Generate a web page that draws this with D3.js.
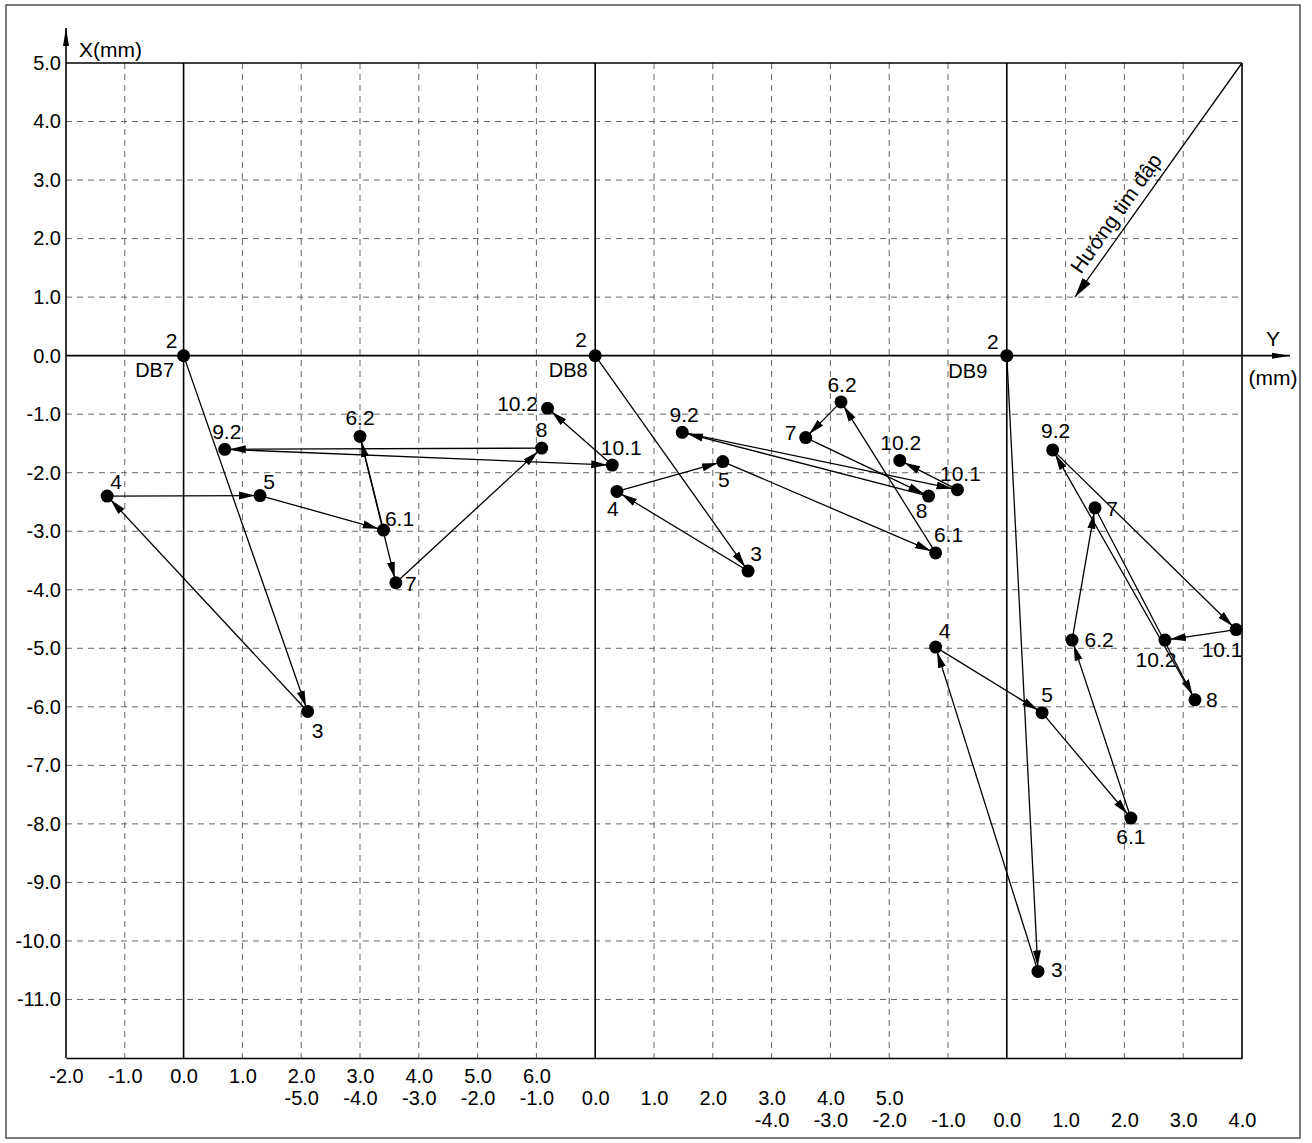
<!DOCTYPE html>
<html>
<head>
<meta charset="utf-8">
<script src="https://cdn.jsdelivr.net/npm/d3@7"></script>
<style>
  html, body { margin: 0; padding: 0; background: #fff; }
  svg { display: block; font-family: 'Liberation Sans', Arial, sans-serif; }
</style>
</head>
<body>
<div id="chart"></div>
<script>
// ─── Data ──────────────────────────────────────────────────────────────
const pointIds = ['2', '3', '4', '5', '6.1', '6.2', '7', '8', '9.2', '10.1', '10.2'];
const stations = ['DB7', 'DB8', 'DB9'];

// horizontal displacement Y (mm) and vertical displacement X (mm), per survey
const db7Y = [0, 2.11, -1.30, 1.30, 3.40, 3.00, 3.61, 6.09, 0.70, 7.29, 6.19];
const db7X = [0, -6.08, -2.40, -2.39, -2.98, -1.38, -3.88, -1.58, -1.60, -1.87, -0.90];

const db8Y = [0, 2.60, 0.37, 2.17, 5.79, 4.18, 3.58, 5.67, 1.48, 6.16, 5.18];
const db8X = [0, -3.68, -2.32, -1.81, -3.37, -0.79, -1.40, -2.40, -1.31, -2.29, -1.79];

const db9Y = [0, 0.53, -1.21, 0.60, 2.11, 1.11, 1.50, 3.20, 0.78, 3.90, 2.69];
const db9X = [0, -10.52, -4.98, -6.10, -7.90, -4.86, -2.60, -5.88, -1.61, -4.68, -4.86];

// tick labels
const xTicks = d3.range(-11, 6);            // vertical axis, X(mm)
const db7Ticks = d3.range(-2, 7);           // first row under the plot
const db8Ticks = d3.range(-5, 6);           // second row
const db9Ticks = d3.range(-4, 5);           // third row

// each station shares the same strip; its own zero sits further right
const stationDomains = [[-2, 18], [-9, 11], [-16, 4]];

// dam axis direction arrow (in DB9 units)
const dirFrom = [4.0, 5.0];
const dirTo = [1.16, 1.0];
const dirLabel = 'Hướng tim đập';

// ─── Label placement (px offsets from the dot) ─────────────────────────
const labelOffsets = [
  [[-12, -15], [10, 19], [9, -15], [9, -14], [16, -12], [0, -19], [15, 1], [0, -19], [2, -18], [9, -18], [-30, -5]],
  [[-14, -16], [8, -18], [-4, 17], [1, 18], [13, -18], [1, -17], [-15, -5], [-7, 14], [2, -18], [3, -16], [1, -18]],
  [[-14, -14], [19, -2], [9, -17], [5, -18], [0, 18], [27, -1], [17, 1], [17, 0], [3, -19], [-14, 20], [-9, 19]]
];
const stationLabelOffsets = [[-29, 14], [-27, 14], [-39, 15]];

// ─── Layout ────────────────────────────────────────────────────────────
const W = 1312, H = 1143;
const plot = { left: 66, right: 1242, top: 63, bottom: 1058 };
const FONT = "'Liberation Sans', Arial, sans-serif";

const svg = d3.select('#chart').append('svg')
  .attr('width', W).attr('height', H)
  .style('background', '#fff');

const defs = svg.append('defs');
defs.append('marker')
  .attr('id', 'arr')
  .attr('viewBox', '0 -5 22 10')
  .attr('markerUnits', 'userSpaceOnUse')
  .attr('markerWidth', 22).attr('markerHeight', 10)
  .attr('refX', 21).attr('refY', 0)
  .attr('orient', 'auto')
  .append('path').attr('d', 'M0,-4L16,0L0,4Z').attr('fill', '#000');
defs.append('marker')
  .attr('id', 'axisArr')
  .attr('viewBox', '0 -5 20 10')
  .attr('markerUnits', 'userSpaceOnUse')
  .attr('markerWidth', 20).attr('markerHeight', 10)
  .attr('refX', 18).attr('refY', 0)
  .attr('orient', 'auto')
  .append('path').attr('d', 'M0,-3L18,0L0,3Z').attr('fill', '#000');
defs.append('marker')
  .attr('id', 'dirArr')
  .attr('viewBox', '0 -6 22 12')
  .attr('markerUnits', 'userSpaceOnUse')
  .attr('markerWidth', 22).attr('markerHeight', 12)
  .attr('refX', 20).attr('refY', 0)
  .attr('orient', 'auto')
  .append('path').attr('d', 'M0,-5L20,0L0,5Z').attr('fill', '#000');

// outer frame of the figure
svg.append('rect')
  .attr('x', 6).attr('y', 5).attr('width', 1294).attr('height', 1133)
  .attr('fill', 'none').attr('stroke', '#444').attr('stroke-width', 1.4);

// scales
const vScale = d3.scaleLinear().domain([-12, 5]).range([plot.bottom, plot.top]);
const hScales = stationDomains.map(d => d3.scaleLinear().domain(d).range([plot.left, plot.right]));
const h0 = hScales[0];

// ─── Grid ──────────────────────────────────────────────────────────────
const grid = svg.append('g')
  .attr('stroke', '#555').attr('stroke-width', 0.9).attr('stroke-dasharray', '6,5');

grid.selectAll('.hgrid')
  .data(xTicks.filter(v => v !== 0 && v !== 5))
  .join('line')
  .attr('x1', plot.left).attr('x2', plot.right)
  .attr('y1', d => vScale(d)).attr('y2', d => vScale(d));

grid.selectAll('.vgrid')
  .data(d3.range(-1, 18).filter(k => k !== 0 && k !== 7 && k !== 14))
  .join('line')
  .attr('x1', d => h0(d)).attr('x2', d => h0(d))
  .attr('y1', plot.top).attr('y2', plot.bottom);

// solid frame lines
const solid = svg.append('g').attr('stroke', '#000').attr('stroke-width', 1.6).attr('fill', 'none');
solid.append('line')
  .attr('x1', plot.left).attr('x2', plot.right)
  .attr('y1', vScale(5)).attr('y2', vScale(5));
solid.append('line')
  .attr('x1', plot.right).attr('x2', plot.right)
  .attr('y1', plot.top).attr('y2', plot.bottom);

// station zero lines
hScales.forEach(s => {
  solid.append('line')
    .attr('x1', s(0)).attr('x2', s(0))
    .attr('y1', plot.top).attr('y2', plot.bottom);
});

// X = 0 line running out to the Y arrow
solid.append('line')
  .attr('x1', plot.left).attr('x2', 1290)
  .attr('y1', vScale(0)).attr('y2', vScale(0))
  .attr('marker-end', 'url(#axisArr)');

// vertical axis with arrow on top
solid.append('line')
  .attr('x1', plot.left).attr('x2', plot.left)
  .attr('y1', plot.bottom).attr('y2', 28)
  .attr('marker-end', 'url(#axisArr)');

// ─── Axes ──────────────────────────────────────────────────────────────
const fmt = d => d.toFixed(1);

svg.append('g')
  .attr('transform', `translate(${plot.left}, 0)`)
  .call(d3.axisLeft(vScale).tickValues(xTicks).tickFormat(fmt).tickSize(0).tickPadding(5))
  .call(g => {
    g.select('.domain').remove();
    g.selectAll('text').attr('fill', '#000').attr('font-size', 20).attr('font-family', FONT);
  });

const rowTicks = [db7Ticks, db8Ticks, db9Ticks];
const rowPadding = [11, 33, 55];
hScales.forEach((s, i) => {
  svg.append('g')
    .attr('transform', `translate(0, ${plot.bottom})`)
    .call(d3.axisBottom(s).tickValues(rowTicks[i]).tickFormat(fmt).tickSize(0).tickSizeOuter(0).tickPadding(rowPadding[i]))
    .call(g => {
      if (i === 0) g.select('.domain').attr('stroke', '#000').attr('stroke-width', 1.6);
      else g.select('.domain').remove();
      g.selectAll('text').attr('fill', '#000').attr('font-size', 20).attr('font-family', FONT);
    });
});

// axis titles
svg.append('text')
  .attr('x', 79).attr('y', 57)
  .attr('font-size', 21).text('X(mm)');
svg.append('text')
  .attr('x', 1273).attr('y', 346).attr('text-anchor', 'middle')
  .attr('font-size', 21).text('Y');
svg.append('text')
  .attr('x', 1273).attr('y', 385).attr('text-anchor', 'middle')
  .attr('font-size', 21).text('(mm)');

// ─── Displacement paths ────────────────────────────────────────────────
const stationYs = [db7Y, db8Y, db9Y];
const stationXs = [db7X, db8X, db9X];

stations.forEach((name, si) => {
  const sx = hScales[si];
  const pts = pointIds.map((id, i) => ({
    id,
    px: sx(stationYs[si][i]),
    py: vScale(stationXs[si][i]),
    off: labelOffsets[si][i]
  }));
  const segs = d3.pairs(pts);
  const g = svg.append('g');

  g.selectAll('.seg')
    .data(segs)
    .join('line')
    .attr('x1', d => d[0].px).attr('y1', d => d[0].py)
    .attr('x2', d => d[1].px).attr('y2', d => d[1].py)
    .attr('stroke', '#000').attr('stroke-width', 1.3)
    .attr('marker-end', 'url(#arr)');

  g.selectAll('.dot')
    .data(pts)
    .join('circle')
    .attr('cx', d => d.px).attr('cy', d => d.py)
    .attr('r', 6.5).attr('fill', '#000');

  g.selectAll('.lbl')
    .data(pts)
    .join('text')
    .attr('x', d => d.px + d.off[0]).attr('y', d => d.py + d.off[1])
    .attr('text-anchor', 'middle').attr('dominant-baseline', 'central')
    .attr('font-size', 21).attr('fill', '#000')
    .text(d => d.id);

  g.append('text')
    .attr('x', sx(0) + stationLabelOffsets[si][0])
    .attr('y', vScale(0) + stationLabelOffsets[si][1])
    .attr('text-anchor', 'middle').attr('dominant-baseline', 'central')
    .attr('font-size', 20).text(name);
});

// ─── Dam axis direction ────────────────────────────────────────────────
const s9 = hScales[2];
const a = [s9(dirFrom[0]), vScale(dirFrom[1])];
const b = [s9(dirTo[0]), vScale(dirTo[1])];
svg.append('line')
  .attr('x1', a[0]).attr('y1', a[1]).attr('x2', b[0]).attr('y2', b[1])
  .attr('stroke', '#000').attr('stroke-width', 1.3)
  .attr('marker-end', 'url(#dirArr)');

const ang = Math.atan2(a[1] - b[1], a[0] - b[0]) * 180 / Math.PI;
const t = 0.68;
const mx = a[0] + (b[0] - a[0]) * t, my = a[1] + (b[1] - a[1]) * t;
svg.append('text')
  .attr('transform', `translate(${mx},${my}) rotate(${ang})`)
  .attr('y', -8).attr('text-anchor', 'middle')
  .attr('font-size', 21).text(dirLabel);
</script>
</body>
</html>
